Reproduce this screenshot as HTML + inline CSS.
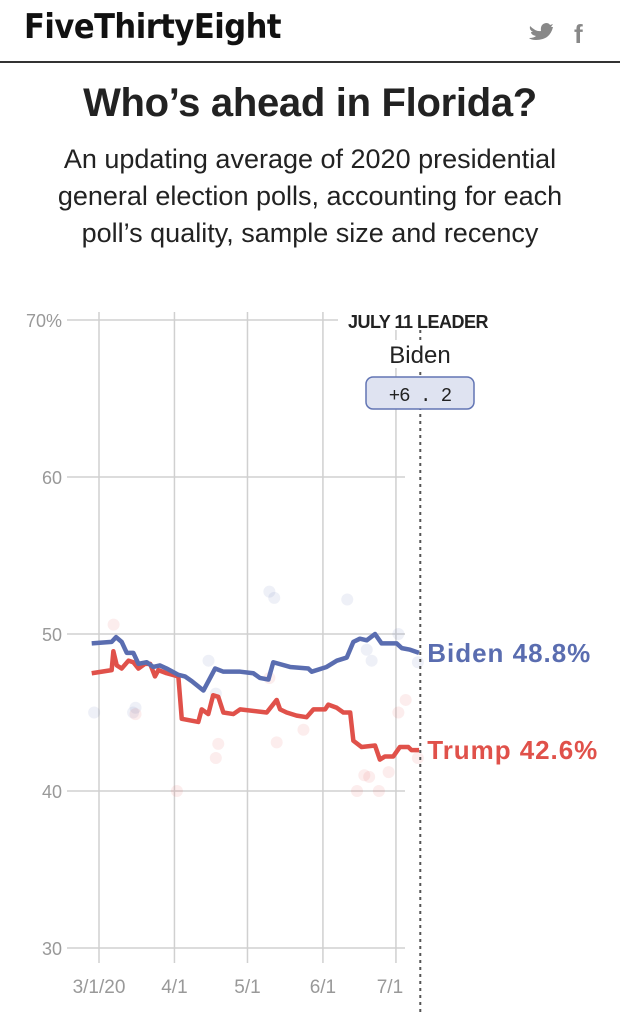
<!DOCTYPE html>
<html><head><meta charset="utf-8"><style>
body{margin:0;width:620px;height:1024px;background:#fff;overflow:hidden;font-family:"Liberation Sans",sans-serif;position:relative}
.hdr{position:absolute;left:0;top:0;width:620px;height:61px;border-bottom:2px solid #333}
.logo{position:absolute;left:24px;top:7px;font-size:34px;font-weight:bold;color:#111;letter-spacing:-0.5px;font-family:"DejaVu Sans Condensed","Liberation Sans Narrow",sans-serif}
.title{position:absolute;top:81px;width:620px;text-align:center;font-size:40px;font-weight:bold;color:#222;letter-spacing:-0.3px}
.sub{position:absolute;top:141px;width:620px;text-align:center;font-size:27px;line-height:37px;color:#222}
</style></head><body>
<div class="hdr">
<div class="logo">FiveThirtyEight</div>
<svg style="position:absolute;left:528px;top:20px" width="70" height="26">
<path d="M2 6 Q8 12 13 11 Q12 4 18 3 Q21 3 22 5 L25 4 L23 7 L25 7 Q22 20 8 20 Q3 20 1 18 Q6 18 8 16 Q3 15 3 12 L5 12 Q1 10 2 6Z" fill="#888"/>
<text x="46" y="23" font-size="26" font-weight="bold" fill="#888" font-family="Liberation Sans">f</text>
</svg>
</div>
<div class="title">Who’s ahead in Florida?</div>
<div class="sub">An updating average of 2020 presidential<br>general election polls, accounting for each<br>poll’s quality, sample size and recency</div>
<svg id="chart" width="620" height="1024" style="position:absolute;left:0;top:0"></svg>
<script>
const yTicks=[70,60,50,40,30];
const xTickDays=[0,31,61,92,122];
const xTickLabels=["3/1/20","4/1","5/1","6/1","7/1"];
const bidenDays=[-3,5.2,7,9.3,11.4,14.1,16.2,19.6,22.3,25,27.8,32.6,35.3,38.1,42.9,47.7,51.1,58,63.4,66.1,69.6,71.6,78.5,86,87.4,93.5,97.7,101.8,104.5,107.2,110,113.4,116.1,122.3,124.4,127.8,131.5];
const bidenVals=[49.4,49.5,49.8,49.5,48.8,48.8,48.1,48.2,47.9,48.0,47.8,47.4,47.3,47.0,46.4,47.8,47.6,47.6,47.5,47.2,47.1,48.2,47.9,47.8,47.6,47.9,48.3,48.5,49.5,49.7,49.6,50.0,49.4,49.4,49.1,49.0,48.8];
const trumpDays=[-3,5.2,5.9,7.3,9.3,12.1,14.1,16.2,18.9,21,23,24.4,27.8,32.6,34,40.8,42.2,44.9,46.9,49,51.1,55.2,58,68.9,73,74.4,77.1,81.2,85.3,88.1,92.9,94.2,97.7,100.4,103.2,104.5,107.9,113.4,115.4,117.5,120.9,123.6,127.1,128.4,131.5];
const trumpVals=[47.5,47.7,48.9,48.0,47.8,48.3,48.2,47.8,48.1,48.1,47.3,47.7,47.5,47.3,44.6,44.4,45.2,44.9,46.1,46.0,45.0,44.9,45.2,45.0,45.8,45.2,45.0,44.8,44.7,45.2,45.2,45.5,45.3,45.0,45.0,43.2,42.8,42.9,42.0,42.2,42.2,42.8,42.8,42.6,42.6];
const bidenPollDays=[-2,14,15,45,48,70,72,102,110,112,123,131];
const bidenPollVals=[45,45,45.3,48.3,46.2,52.7,52.3,52.2,49,48.3,50,48.2];
const trumpPollDays=[6,15,32,49,48,70,73,84,106,109,111,115,119,123,126,131];
const trumpPollVals=[50.6,44.9,40,43,42.1,47.2,43.1,43.9,40,41,40.9,40,41.2,45,45.8,42.1];
const leaderDay=132, leaderName="Biden", leaderMargin="+6 . 2";
const X=d=>99+d*2.434, Y=v=>634-(v-50)*15.7;
const svg=document.getElementById('chart'), NS="http://www.w3.org/2000/svg";
function mk(t,a,txt){const e=document.createElementNS(NS,t);for(const k in a)e.setAttribute(k,a[k]);if(txt!=null)e.textContent=txt;svg.appendChild(e);return e;}
yTicks.forEach(v=>{
const l=mk('line',{x1:67,x2:405,y1:Y(v),y2:Y(v),stroke:'#d0d0d0','stroke-width':1.5});


const t=mk('text',{x:62,y:Y(v)+7,'text-anchor':'end','font-size':18,fill:'#999'},v===70?'70%':v);


});
xTickDays.forEach((d,i)=>{
const l=mk('line',{x1:X(d),x2:X(d),y1:Y(70)-8,y2:Y(30)+15,stroke:'#d0d0d0','stroke-width':1.5});


const t=mk('text',{x:X(d)+(i==4?-6:0),y:993,'text-anchor':'middle','font-size':19,fill:'#999'},xTickLabels[i]);


});
bidenPollDays.forEach((d,i)=>{const c=mk('circle',{cx:X(d),cy:Y(bidenPollVals[i]),r:6,fill:'#5a6db0','fill-opacity':0.1});

});
trumpPollDays.forEach((d,i)=>{const c=mk('circle',{cx:X(d),cy:Y(trumpPollVals[i]),r:6,fill:'#e0514a','fill-opacity':0.1});

});
const lx=X(leaderDay);
const dl=mk('line',{x1:lx,x2:lx,y1:330,y2:1015,stroke:'#555','stroke-width':2,'stroke-dasharray':'3,4'});


const tp=mk('polyline',{points:trumpDays.map((d,i)=>X(d)+','+Y(trumpVals[i])).join(' '),fill:'none',stroke:'#e0514a','stroke-width':4.5,'stroke-linejoin':'round'});


const bp=mk('polyline',{points:bidenDays.map((d,i)=>X(d)+','+Y(bidenVals[i])).join(' '),fill:'none',stroke:'#5a6db0','stroke-width':4.5,'stroke-linejoin':'round'});


const bl=mk('text',{x:lx+7,y:Y(bidenVals[bidenVals.length-1])+9,'font-size':26,'font-weight':'bold',fill:'#5a6db0',textLength:163},'Biden '+bidenVals[bidenVals.length-1].toFixed(1)+'%');


const tl=mk('text',{x:lx+7,y:Y(trumpVals[trumpVals.length-1])+9,'font-size':26,'font-weight':'bold',fill:'#e0514a',textLength:170},'Trump '+trumpVals[trumpVals.length-1].toFixed(1)+'%');


const lb=mk('rect',{x:338,y:310,width:158,height:20,fill:'#fff'});


const lh=mk('text',{x:418,y:328,'text-anchor':'middle','font-size':18,'font-weight':'bold',fill:'#222','letter-spacing':-0.5},'JULY 11 LEADER');


const nb=mk('rect',{x:380,y:340,width:76,height:28,fill:'#fff'});


const ln=mk('text',{x:420,y:363,'text-anchor':'middle','font-size':24,fill:'#222'},leaderName);


const bx=mk('rect',{x:366,y:377,width:108,height:32,rx:7,fill:'#dfe3f1',stroke:'#6275b4','stroke-width':1.5});


const mt=mk('text',{x:420,y:401,'text-anchor':'middle','font-size':19,fill:'#222','font-family':'Liberation Mono','letter-spacing':-1},leaderMargin);


</script>
</body></html>
